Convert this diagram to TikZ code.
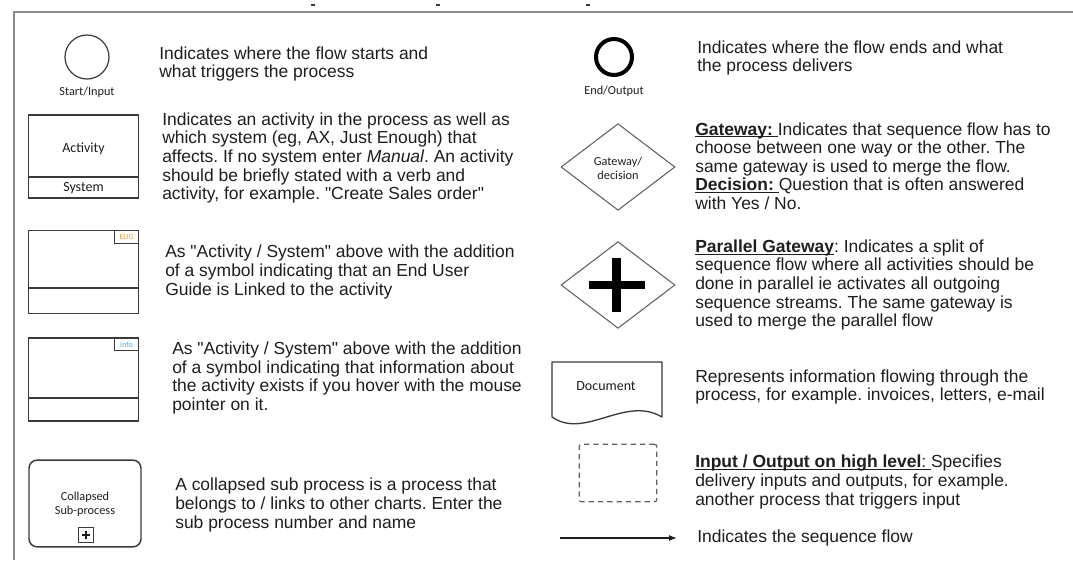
\documentclass[tikz,border=0pt]{standalone}
\usepackage{fontspec}
\setmainfont{Liberation Sans}[Ligatures=TeXOff]
\newfontfamily\lblfont{Carlito}
\usetikzlibrary{shapes.geometric,arrows.meta}
\frenchspacing

% underline drawn as a thin rule just below the baseline
\newcommand\ulbox[1]{\setbox0\hbox{#1}\rlap{\rule[-1.6pt]{\wd0}{0.75pt}}\box0}

\definecolor{framegray}{HTML}{8C8C8C}
\definecolor{inkc}{HTML}{1E1E1E}
\definecolor{linec}{HTML}{3A3A3A}
\definecolor{eugc}{HTML}{F0A030}
\definecolor{infoc}{HTML}{3AB0F0}

\tikzset{
  desc/.style={anchor=west, inner sep=0pt, align=left, text=inkc,
    font=\fontsize{13.1}{13.9}\selectfont\frenchspacing},
  lbl/.style={inner sep=0pt, align=center, text=inkc,
    font=\lblfont\fontsize{9.2}{10.8}\selectfont},
  boxlbl/.style={inner sep=0pt, text=inkc, font=\lblfont\fontsize{10.5}{12}\selectfont},
  actbox/.style={draw=linec, line width=1.1pt, minimum width=82.5pt, minimum height=62pt,
    inner sep=0pt},
  tagbox/.style={draw=linec, line width=1pt, minimum width=18pt, minimum height=9.5pt,
    inner sep=0pt, font=\lblfont\fontsize{6}{6}\selectfont},
  gate/.style={diamond, draw=linec!80, line width=0.8pt, minimum width=85.5pt,
    minimum height=65pt, inner sep=0pt, aspect=1.3},
}

\begin{document}
\begin{tikzpicture}[x=0.75pt,y=-0.75pt]
\useasboundingbox (0,0) rectangle (1073,560);

% frame of the legend
\draw[framegray, line width=1.3pt] (14,560) -- (14,12) -- (1073,12);
\foreach \tx in {313,438,588}
  \draw[linec, line width=0.8pt] (\tx-2,5) -- (\tx+2,5);

% ---------- left column ----------
% start event
\node[circle, draw=linec, line width=0.9pt, minimum size=33pt, inner sep=0pt] (start) at (87,57) {};
\node[lbl] (startlbl) at (87,92) {Start/Input};
\node[desc] (starttxt) at (159,64) {Indicates where the flow starts and\\what triggers the process};

% activity with system
\node[actbox] (act) at (83.5,156.5) {};
\draw[linec, line width=1.1pt] (act.west |- 0,177) -- (act.east |- 0,177);
\node[boxlbl] (actlbl) at (83.5,149) {Activity};
\node[boxlbl] (syslbl) at (83.5,188) {System};
\node[desc] (acttxt) at (162,158) {Indicates an activity in the process as well as\\which system (eg, AX, Just Enough) that\\affects. If no system enter \textit{Manual}. An activity\\should be briefly stated with a verb and\\activity, for example. "Create Sales order"};

% activity with end user guide
\node[actbox] (eugact) at (83.5,272) {};
\draw[linec, line width=1.1pt] (eugact.west |- 0,288) -- (eugact.east |- 0,288);
\node[tagbox, anchor=north east, text=eugc] (eugtag) at (eugact.north east) {EUG};
\node[desc] (eugtxt) at (165,272) {As "Activity / System" above with the addition\\of a symbol indicating that an End User\\Guide is Linked to the activity};

% activity with info
\node[actbox] (infoact) at (83.5,379.5) {};
\draw[linec, line width=1.1pt] (infoact.west |- 0,398) -- (infoact.east |- 0,398);
\node[tagbox, anchor=north east, text=infoc] (infotag) at (infoact.north east) {Info};
\node[desc] (infotxt) at (172,378) {As "Activity / System" above with the addition\\of a symbol indicating that information about\\the activity exists if you hover with the mouse\\pointer on it.};

% collapsed sub-process
\node[draw=linec, line width=1.1pt, rounded corners=6pt, minimum width=84pt,
  minimum height=65pt, inner sep=0pt] (sub) at (85,503.5) {};
\node[lbl] (sublbl) at (85,504) {Collapsed\\Sub-process};
\node[draw=linec, line width=0.9pt, minimum size=11pt, inner sep=0pt] (subplus) at (86,535) {};
\draw[inkc, line width=1.2pt] ([xshift=-3pt]subplus.center) -- ([xshift=3pt]subplus.center)
  ([yshift=-3pt]subplus.center) -- ([yshift=3pt]subplus.center);
\node[desc] (subtxt) at (175,505) {A collapsed sub process is a process that\\belongs to / links to other charts. Enter the\\sub process number and name};

% ---------- right column ----------
% end event
\node[circle, draw=black, line width=3pt, minimum size=27pt, inner sep=0pt] (end) at (614,57) {};
\node[lbl] (endlbl) at (614,91) {End/Output};
\node[desc] (endtxt) at (697,58) {Indicates where the flow ends and what\\the process delivers};

% exclusive gateway
\node[gate] (gw) at (618,167) {};
\node[lbl] (gwlbl) at (618,168) {Gateway/\\decision};
\node[desc] (gwtxt) at (695,166) {\ulbox{\textbf{Gateway:}\ }Indicates that sequence flow has to\\choose between one way or the other. The\\same gateway is used to merge the flow.\\\ulbox{\textbf{Decision:}\ }Question that is often answered\\with Yes / No.};

% parallel gateway
\node[gate] (pgw) at (618,285) {};
\fill[black] ([xshift=-22pt,yshift=-3.3pt]pgw.center) rectangle ([xshift=20pt,yshift=3.3pt]pgw.center);
\fill[black] ([xshift=-4.3pt,yshift=-20pt]pgw.center) rectangle ([xshift=2.3pt,yshift=20pt]pgw.center);
\node[desc] (pgwtxt) at (695,285) {\ulbox{\textbf{Parallel Gateway}}: Indicates a split of\\sequence flow where all activities should be\\done in parallel ie activates all outgoing\\sequence streams. The same gateway is\\used to merge the parallel flow};

% document
\coordinate (docnw) at (552,362);
\coordinate (docne) at (662,362);
\draw[linec, line width=1pt, line join=round] (docnw) -- (docne) -- (662,417)
  .. controls (625,395) and (585,440) .. (552,417) -- cycle;
\node[boxlbl] (doclbl) at (606,386) {Document};
\node[desc] (doctxt) at (695,387) {Represents information flowing through the\\process, for example. invoices, letters, e-mail};

% input / output on high level
\node[draw=linec!80, dashed, dash pattern=on 4pt off 3pt, line width=0.9pt,
  rounded corners=1.5pt, minimum width=58pt, minimum height=43pt, inner sep=0pt] (io) at (618,473) {};
\node[desc] (iotxt) at (695,482) {\ulbox{\textbf{Input / Output on high level}:\ }Specifies\\delivery inputs and outputs, for example.\\another process that triggers input};

% sequence flow
\coordinate (seqa) at (560,538);
\coordinate (seqb) at (677,538);
\draw[inkc, line width=0.9pt, -{Latex[length=6pt,width=4.5pt]}] (seqa) -- (seqb);
\node[desc] (seqtxt) at (697,538) {Indicates the sequence flow};
\end{tikzpicture}
\end{document}
